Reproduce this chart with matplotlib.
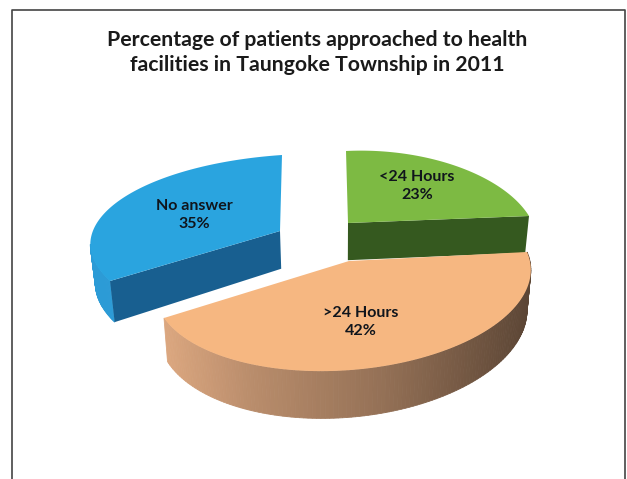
import numpy as np
import matplotlib
matplotlib.use("Agg")
import matplotlib.pyplot as plt
from matplotlib.patches import Polygon
from matplotlib.colors import to_rgb

title = "Percentage of patients approached to health\nfacilities in Taungoke Township in 2011"
labels = ["<24 Hours", ">24 Hours", "No answer"]
values = [23, 42, 35]

# drawing style, pixel coords of the reference
START = 4.0
top_cols = {"<24 Hours": "#7dba43", ">24 Hours": "#f6b781", "No answer": "#2aa4df"}
cut_cols = {"<24 Hours": "#35591f", "No answer": "#185f90"}
label_pos = {"<24 Hours": (417, 186), ">24 Hours": (361, 322), "No answer": (194, 215)}
# apex, rim at first angle, rim at middle angle, rim at last angle
anchors = {
    "<24 Hours": [(348, 223), (529, 216), (450, 164), (346, 151)],
    ">24 Hours": [(349, 261), (164, 318), (405, 362), (527, 252)],
    "No answer": [(280, 231), (282, 155), (120, 200), (110, 281)],
}

sweeps = np.array(values) / sum(values) * 360
ang_a = START + sweeps[0]          # green/blue edge
ang_b = START - sweeps[1]          # orange/blue edge
spans = {"<24 Hours": (START, ang_a), ">24 Hours": (ang_b, START), "No answer": (ang_a, ang_b + 360)}


def fit_h(src, dst):
    rows, rhs = [], []
    for (X, Y), (x, y) in zip(src, dst):
        rows.append([X, Y, 1, 0, 0, 0, -x * X, -x * Y])
        rows.append([0, 0, 0, X, Y, 1, -y * X, -y * Y])
        rhs += [x, y]
    return np.append(np.linalg.solve(np.array(rows, float), np.array(rhs, float)), 1).reshape(3, 3)


def rim(deg):
    return np.cos(np.radians(deg)), np.sin(np.radians(deg))


def base(p):
    # bottom edge of a wall, a bit deeper and narrower towards the viewer
    return np.array([p[0] - (p[0] - 340) * 0.02, p[1] + 37 + (p[1] - 220) * 0.068])


def side_col(name, x):
    if name == ">24 Hours":
        t = np.clip((x - 165) / 366, 0, 1)
        return np.interp(t, [0, .25, .6, 1], [0.86, 0.72, 0.58, 0.36]) * np.array([1, .76, .58])
    return np.array(to_rgb("#2c9bd6"))


fig = plt.figure(figsize=(6.27, 4.79), dpi=100)
ax = fig.add_axes([0, 0, 1, 1])
ax.set_xlim(0, 627)
ax.set_ylim(479, 0)
ax.axis("off")

# frame has no bottom edge, it runs off the crop
ax.plot([11.5, 11.5, 624.5, 624.5], [479, 9.5, 9.5, 479], color="#444444", lw=1.2)

for name in ["No answer", "<24 Hours", ">24 Hours"]:
    a0, a1 = spans[name]
    apex, p0, pm, p1 = anchors[name]
    H = fit_h([(0, 0), rim(a0), rim((a0 + a1) / 2), rim(a1)], [apex, p0, pm, p1])
    deg = np.linspace(a0, a1, 140)
    pts = H @ np.vstack([np.cos(np.radians(deg)), np.sin(np.radians(deg)), np.ones_like(deg)])
    arc = (pts[:2] / pts[2]).T
    apex = np.array(apex, float)

    # outer wall, only the part facing the viewer
    if name == ">24 Hours":
        wall = arc
    elif name == "No answer":
        wall = arc[np.argmin(arc[:, 0]):]
    else:
        wall = arc[:0]
    for p, q in zip(wall[:-1], wall[1:]):
        c = side_col(name, (p[0] + q[0]) / 2)
        ax.add_patch(Polygon([p, q, base(q), base(p)], fc=c, ec=c, lw=0.6))

    # cut face towards the viewer
    if name == "<24 Hours":
        corner = arc[0]
    elif name == "No answer":
        corner = arc[-1]
    else:
        corner = None
    if corner is not None:
        ax.add_patch(Polygon([apex, corner, base(corner), base(apex)], fc=cut_cols[name], ec="none"))

    ax.add_patch(Polygon(np.vstack([apex, arc]), fc=top_cols[name], ec="none"))

fig.text(317.5 / 627, 1 - 52.5 / 479, title, ha="center", va="center", family="Lato",
         fontweight="bold", fontsize=15.3, color="#1a1a1a", linespacing=1.27)

for name, v in zip(labels, values):
    x, y = label_pos[name]
    ax.text(x, y, f"{name}\n{v}%", ha="center", va="center", family="Lato",
            fontweight="bold", fontsize=11.5, color="#10151c", linespacing=1.38, zorder=5)

fig.savefig("out.png", dpi=100, facecolor="white")
